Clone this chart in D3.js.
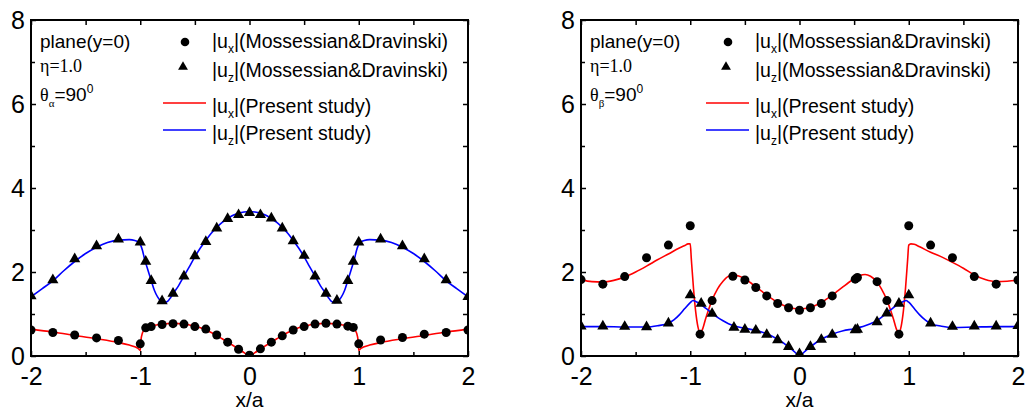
<!DOCTYPE html>
<html><head><meta charset="utf-8">
<script src="https://cdn.jsdelivr.net/npm/d3@7"></script>
<style>body{margin:0;background:#fff}svg{display:block}</style>
</head><body>
<svg id="c" width="1027" height="412"></svg>
<script>
// ---------- axes ----------
const xTicks = [-2, -1, 0, 1, 2];
const xMinor = [-1.5, -0.5, 0.5, 1.5];
const yTicks = [0, 2, 4, 6, 8];
const yMinor = [1, 3, 5, 7];
const xLabel = "x/a";

// ---------- legend texts ----------
const legendSeries = ["x", "z", "x", "z"];
const legendRef = "(Mossessian&Dravinski)";
const legendPresent = "(Present study)";

// ---------- left panel (theta_alpha = 90) : |ux| present study ----------
const A_uxLineX = [-2,-1.8,-1.6,-1.4,-1.2,-1.1,-1.05,-1.02,-1.0,-0.995,-0.98,-0.96,-0.93,-0.9,-0.85,-0.8,-0.75,-0.7,-0.65,-0.6,-0.55,-0.5,-0.45,-0.4,-0.35,-0.3,-0.25,-0.2,-0.15,-0.1,-0.05,0,
  0.05,0.1,0.15,0.2,0.25,0.3,0.35,0.4,0.45,0.5,0.55,0.6,0.65,0.7,0.75,0.8,0.85,0.9,0.93,0.96,0.98,0.995,1.0,1.02,1.05,1.1,1.2,1.4,1.6,1.8,2];
const A_uxLineY = [0.64,0.57,0.49,0.41,0.32,0.26,0.22,0.18,0.13,0.35,0.55,0.63,0.68,0.71,0.74,0.76,0.77,0.78,0.77,0.76,0.74,0.71,0.67,0.62,0.56,0.49,0.41,0.33,0.25,0.17,0.08,0,
  0.08,0.17,0.25,0.33,0.41,0.49,0.56,0.62,0.67,0.71,0.74,0.76,0.77,0.78,0.77,0.76,0.74,0.71,0.68,0.63,0.55,0.35,0.13,0.18,0.22,0.26,0.32,0.41,0.49,0.57,0.64];
// |uz| present study
const A_uzLineX = [-2,-1.9,-1.8,-1.7,-1.6,-1.5,-1.4,-1.3,-1.2,-1.1,-1.05,-1.02,-1.0,-0.98,-0.96,-0.93,-0.9,-0.87,-0.84,-0.81,-0.78,-0.75,-0.72,-0.7,-0.65,-0.6,-0.55,-0.5,-0.45,-0.4,-0.35,-0.3,-0.25,-0.2,-0.15,-0.1,-0.05,0,
  0.05,0.1,0.15,0.2,0.25,0.3,0.35,0.4,0.45,0.5,0.55,0.6,0.65,0.7,0.72,0.75,0.78,0.81,0.84,0.87,0.9,0.93,0.96,0.98,1.0,1.02,1.05,1.1,1.2,1.3,1.4,1.5,1.6,1.7,1.8,1.9,2];
const A_uzLineY = [1.41,1.6,1.79,2.03,2.25,2.44,2.59,2.7,2.76,2.77,2.75,2.72,2.66,2.52,2.3,2.05,1.8,1.56,1.4,1.3,1.27,1.3,1.4,1.48,1.67,1.9,2.13,2.36,2.57,2.75,2.92,3.06,3.18,3.27,3.35,3.4,3.43,3.44,
  3.43,3.4,3.35,3.27,3.18,3.06,2.92,2.75,2.57,2.36,2.13,1.9,1.67,1.48,1.4,1.3,1.27,1.3,1.4,1.56,1.8,2.05,2.3,2.52,2.66,2.72,2.75,2.77,2.76,2.7,2.59,2.44,2.25,2.03,1.79,1.6,1.41];
// Mossessian & Dravinski points
const A_uxDotX = [-2,-1.8,-1.6,-1.4,-1.2,-1.0,-0.95,-0.9,-0.8,-0.7,-0.6,-0.5,-0.4,-0.3,-0.2,-0.1,0,0.1,0.2,0.3,0.4,0.5,0.6,0.7,0.8,0.9,0.95,1.0,1.2,1.4,1.6,1.8,2.0];
const A_uxDotY = [0.62,0.56,0.5,0.43,0.37,0.29,0.67,0.7,0.75,0.77,0.76,0.7,0.64,0.5,0.33,0.16,0.02,0.17,0.33,0.48,0.62,0.7,0.76,0.78,0.76,0.71,0.68,0.29,0.38,0.44,0.52,0.56,0.62];
const A_uzTriX = [-2,-1.8,-1.6,-1.4,-1.2,-1.0,-0.95,-0.9,-0.8,-0.7,-0.6,-0.5,-0.4,-0.3,-0.2,-0.1,0,0.1,0.2,0.3,0.4,0.5,0.6,0.7,0.8,0.9,0.95,1.0,1.2,1.4,1.6,1.8,2.0];
const A_uzTriY = [1.43,1.81,2.31,2.62,2.78,2.71,2.25,1.79,1.31,1.49,1.9,2.38,2.72,3.04,3.27,3.36,3.41,3.36,3.28,3.04,2.74,2.39,1.9,1.49,1.32,1.79,2.25,2.71,2.78,2.62,2.31,1.81,1.41];

// ---------- right panel (theta_beta = 90) ----------
const B_uxLineX = [-2,-1.9,-1.8,-1.7,-1.6,-1.5,-1.4,-1.3,-1.2,-1.1,-1.05,-1.02,-1.0,-0.99,-0.97,-0.95,-0.93,-0.91,-0.89,-0.86,-0.83,-0.8,-0.75,-0.7,-0.65,-0.6,-0.55,-0.5,-0.45,-0.4,-0.35,-0.3,-0.25,-0.2,-0.15,-0.1,-0.05,0,
  0.05,0.1,0.15,0.2,0.25,0.3,0.35,0.4,0.45,0.5,0.55,0.6,0.65,0.7,0.75,0.8,0.83,0.86,0.89,0.91,0.93,0.95,0.97,0.99,1.0,1.02,1.05,1.1,1.2,1.3,1.4,1.5,1.6,1.7,1.8,1.9,2];
const B_uxLineY = [1.82,1.77,1.76,1.8,1.88,2.0,2.14,2.29,2.43,2.57,2.63,2.67,2.67,2.3,1.6,1.05,0.7,0.55,0.62,0.88,1.12,1.33,1.6,1.78,1.9,1.93,1.9,1.84,1.75,1.65,1.55,1.45,1.36,1.27,1.21,1.16,1.13,1.12,
  1.13,1.16,1.21,1.27,1.36,1.45,1.55,1.65,1.75,1.84,1.91,1.94,1.9,1.79,1.6,1.33,1.12,0.88,0.62,0.55,0.7,1.05,1.6,2.3,2.64,2.67,2.66,2.6,2.47,2.36,2.23,2.09,1.93,1.82,1.77,1.78,1.81];
const B_uzLineX = [-2,-1.8,-1.6,-1.4,-1.3,-1.2,-1.15,-1.1,-1.05,-1.0,-0.975,-0.95,-0.9,-0.85,-0.8,-0.75,-0.7,-0.65,-0.6,-0.5,-0.4,-0.3,-0.2,-0.1,-0.05,0,
  0.05,0.1,0.2,0.3,0.4,0.5,0.6,0.65,0.7,0.75,0.8,0.85,0.9,0.95,0.975,1.0,1.05,1.1,1.15,1.2,1.3,1.4,1.6,1.8,2];
const B_uzLineY = [0.70,0.70,0.69,0.69,0.72,0.78,0.86,0.98,1.13,1.27,1.32,1.3,1.22,1.12,1.02,0.92,0.84,0.77,0.72,0.66,0.61,0.53,0.4,0.22,0.11,0.01,
  0.11,0.22,0.4,0.52,0.6,0.65,0.72,0.77,0.83,0.92,1.03,1.13,1.23,1.3,1.32,1.28,1.13,0.98,0.86,0.77,0.71,0.68,0.69,0.70,0.70];
const B_uxDotX = [-2,-1.8,-1.6,-1.4,-1.2,-1.0,-0.91,-0.8,-0.61,-0.5,-0.4,-0.3,-0.2,-0.1,0,0.1,0.2,0.3,0.51,0.53,0.71,0.8,0.91,1.0,1.2,1.4,1.6,1.8,2.0];
const B_uxDotY = [1.82,1.71,1.89,2.34,2.64,3.1,0.52,1.32,1.9,1.81,1.63,1.43,1.25,1.15,1.09,1.15,1.25,1.43,1.83,1.87,1.77,1.32,0.52,3.1,2.64,2.34,1.89,1.71,1.81];
const B_uzTriX = [-2,-1.8,-1.6,-1.4,-1.2,-1.0,-0.9,-0.8,-0.6,-0.5,-0.4,-0.3,-0.2,-0.1,0,0.1,0.2,0.3,0.51,0.53,0.71,0.8,0.91,1.0,1.2,1.4,1.6,1.8,2.0];
const B_uzTriY = [0.71,0.71,0.70,0.69,0.78,1.45,1.25,1.01,0.68,0.63,0.61,0.51,0.38,0.22,0.05,0.22,0.39,0.51,0.62,0.63,0.81,1.02,1.25,1.45,0.78,0.70,0.71,0.71,0.72];

const zip = (xs, ys) => xs.map((x, i) => [x, ys[i]]);

const panels = [
  { x0: 31, x1: 468, y0: 20, y1: 356, lg: 0, info: 40, sub: "α",
    uxLine: zip(A_uxLineX, A_uxLineY), uzLine: zip(A_uzLineX, A_uzLineY),
    uxDot: zip(A_uxDotX, A_uxDotY), uzTri: zip(A_uzTriX, A_uzTriY) },
  { x0: 581, x1: 1018, y0: 20, y1: 356, lg: 543, info: 590, sub: "β",
    uxLine: zip(B_uxLineX, B_uxLineY), uzLine: zip(B_uzLineX, B_uzLineY),
    uxDot: zip(B_uxDotX, B_uxDotY), uzTri: zip(B_uzTriX, B_uzTriY) }
];

const svg = d3.select("#c");
const SANS = "'Liberation Sans', Arial, sans-serif";
const SERIF = "'Liberation Serif', 'Times New Roman', serif";
const triSym = d3.symbol().type(d3.symbolTriangle).size(54);

panels.forEach((p, pi) => {
  const x = d3.scaleLinear().domain([-2, 2]).range([p.x0, p.x1]);
  const y = d3.scaleLinear().domain([0, 8]).range([p.y1, p.y0]);
  const g = svg.append("g");
  const cid = "clip" + pi;
  svg.append("clipPath").attr("id", cid).append("rect")
    .attr("x", p.x0).attr("y", p.y0).attr("width", p.x1 - p.x0).attr("height", p.y1 - p.y0);

  // axes with inward ticks
  const styleAxis = sel => { sel.select(".domain").remove();
    sel.selectAll(".tick line").attr("stroke", "#000").attr("stroke-width", 1.5);
    sel.selectAll("text").attr("font-family", SANS).attr("font-size", 25).attr("fill", "#000"); };
  g.append("g").attr("transform", `translate(0,${p.y1})`)
    .call(d3.axisBottom(x).tickValues(xTicks).tickSize(-5).tickPadding(11).tickFormat(d3.format("d")))
    .call(styleAxis);
  g.append("g").attr("transform", `translate(0,${p.y1})`)
    .call(d3.axisBottom(x).tickValues(xMinor).tickSize(-4).tickFormat("")).call(styleAxis);
  g.append("g").attr("transform", `translate(0,${p.y0})`)
    .call(d3.axisTop(x).tickValues(xTicks.concat(xMinor)).tickSize(-5).tickFormat("")).call(styleAxis);
  g.append("g").attr("transform", `translate(${p.x0},0)`)
    .call(d3.axisLeft(y).tickValues(yTicks).tickSize(-5).tickPadding(6).tickFormat(d3.format("d")))
    .call(styleAxis);
  g.append("g").attr("transform", `translate(${p.x0},0)`)
    .call(d3.axisLeft(y).tickValues(yMinor).tickSize(-4).tickFormat("")).call(styleAxis);
  g.append("g").attr("transform", `translate(${p.x1},0)`)
    .call(d3.axisRight(y).tickValues(yTicks.concat(yMinor)).tickSize(-5).tickFormat("")).call(styleAxis);
  g.selectAll(".tick text").filter(function(){ return this.textContent.startsWith("−"); })
    .text(function(){ return this.textContent.replace("−", "-"); });

  // x label
  g.append("text").attr("x", (p.x0 + p.x1) / 2).attr("y", 407).attr("text-anchor", "middle")
    .attr("font-family", SANS).attr("font-size", 21).text(xLabel);

  // data
  const line = d3.line().x(d => x(d[0])).y(d => y(d[1])).curve(d3.curveMonotoneX);
  const dg = g.append("g").attr("clip-path", `url(#${cid})`);
  dg.append("path").datum(p.uxLine).attr("d", line).attr("fill", "none").attr("stroke", "#ff0000").attr("stroke-width", 1.6);
  dg.append("path").datum(p.uzLine).attr("d", line).attr("fill", "none").attr("stroke", "#0000ff").attr("stroke-width", 1.6);
  dg.selectAll("circle.m").data(p.uxDot).join("circle").attr("class", "m")
    .attr("cx", d => x(d[0])).attr("cy", d => y(d[1])).attr("r", 4.5).attr("fill", "#000");
  dg.selectAll("path.t").data(p.uzTri).join("path").attr("class", "t")
    .attr("transform", d => `translate(${x(d[0])},${y(d[1])})`).attr("d", triSym).attr("fill", "#000");

  // frame
  g.append("rect").attr("x", p.x0).attr("y", p.y0).attr("width", p.x1 - p.x0).attr("height", p.y1 - p.y0)
    .attr("fill", "none").attr("stroke", "#000").attr("stroke-width", 2);

  // info texts
  g.append("text").attr("x", p.info).attr("y", 48).attr("font-family", SANS).attr("font-size", 19).text("plane(y=0)");
  g.append("text").attr("x", p.info).attr("y", 72).attr("font-family", SERIF).attr("font-size", 18).text("η=1.0");
  const th = g.append("text").attr("x", p.info).attr("y", 101);
  th.append("tspan").attr("font-family", SERIF).attr("font-size", 18).text("θ");
  th.append("tspan").attr("font-family", SERIF).attr("font-size", 11).attr("dy", 6).text(p.sub);
  th.append("tspan").attr("font-family", SANS).attr("font-size", 19).attr("dy", -6).text("=90");
  th.append("tspan").attr("font-family", SANS).attr("font-size", 12).attr("dy", -8).text("0");

  // legend
  const L = p.lg;
  g.append("circle").attr("cx", 185 + L).attr("cy", 42).attr("r", 4.3).attr("fill", "#000");
  g.append("path").attr("transform", `translate(${183 + L},67)`).attr("d", d3.symbol().type(d3.symbolTriangle).size(42)).attr("fill", "#000");
  g.append("line").attr("x1", 163 + L).attr("x2", 206 + L).attr("y1", 103).attr("y2", 103).attr("stroke", "#ff0000").attr("stroke-width", 1.6);
  g.append("line").attr("x1", 163 + L).attr("x2", 206 + L).attr("y1", 130).attr("y2", 130).attr("stroke", "#0000ff").attr("stroke-width", 1.6);
  const rows = [[48, legendRef], [77, legendRef], [113, legendPresent], [140, legendPresent]];
  rows.forEach((r, i) => {
    const t = g.append("text").attr("x", 212 + L).attr("y", r[0]).attr("font-family", SANS).attr("font-size", 19.5);
    t.append("tspan").text("|u");
    t.append("tspan").attr("font-size", 12).attr("dy", 5).text(legendSeries[i]);
    t.append("tspan").attr("dy", -5).text("|" + r[1]);
  });
});
</script>
</body></html>
